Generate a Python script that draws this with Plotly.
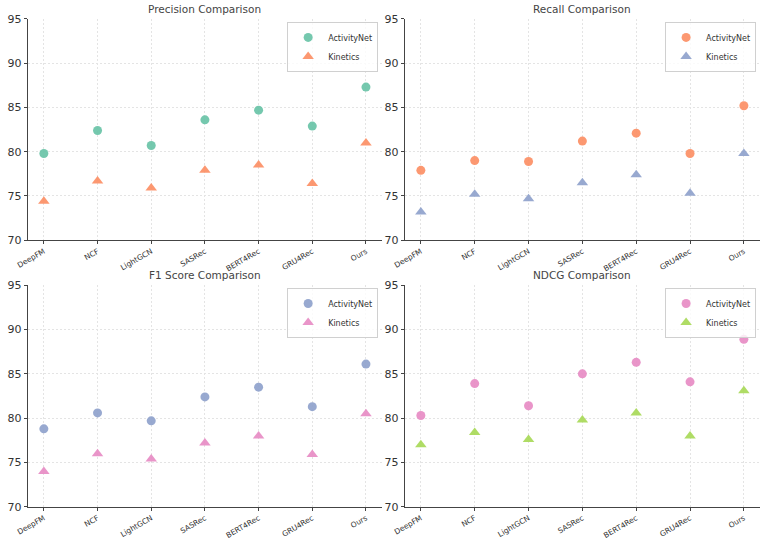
import plotly.graph_objects as go

models = ["DeepFM", "NCF", "LightGCN", "SASRec", "BERT4Rec", "GRU4Rec", "Ours"]
y_ticks = [70, 75, 80, 85, 90, 95]

precision_activitynet = [79.8, 82.4, 80.7, 83.6, 84.7, 82.9, 87.3]
precision_kinetics = [74.4, 76.7, 75.9, 77.9, 78.5, 76.4, 81.0]
recall_activitynet = [77.9, 79.0, 78.9, 81.2, 82.1, 79.8, 85.2]
recall_kinetics = [73.2, 75.2, 74.7, 76.5, 77.4, 75.3, 79.8]
f1_activitynet = [78.8, 80.6, 79.7, 82.4, 83.5, 81.3, 86.1]
f1_kinetics = [74.0, 76.0, 75.4, 77.2, 78.0, 75.9, 80.5]
ndcg_activitynet = [80.3, 83.9, 81.4, 85.0, 86.3, 84.1, 88.9]
ndcg_kinetics = [77.0, 78.4, 77.6, 79.8, 80.6, 78.0, 83.1]

titles = ["Precision Comparison", "Recall Comparison", "F1 Score Comparison", "NDCG Comparison"]
series = [
    (precision_activitynet, precision_kinetics, "#66c2a5", "#fc8d62"),
    (recall_activitynet, recall_kinetics, "#fc8d62", "#8da0cb"),
    (f1_activitynet, f1_kinetics, "#8da0cb", "#e78ac3"),
    (ndcg_activitynet, ndcg_kinetics, "#e78ac3", "#a6d854"),
]

W, H = 762, 540
xdoms = [[16 / W, 376 / W], [399 / W, 760 / W]]
ydoms = [[1 - 240 / H, 1 - 13.3 / H], [1 - 513.3 / H, 1 - 286 / H]]

fig = go.Figure()
annotations = []
layout = {}
for i in range(4):
    r, c = divmod(i, 2)
    an, kn, ca, ck = series[i]
    sfx = "" if i == 0 else str(i + 1)
    lname = "legend" + sfx
    fig.add_trace(go.Scatter(
        x=models, y=an, mode="markers", name="ActivityNet",
        marker=dict(symbol="circle", size=9, color=ca, opacity=0.9),
        xaxis="x" + sfx, yaxis="y" + sfx, legend=lname))
    fig.add_trace(go.Scatter(
        x=models, y=kn, mode="markers", name="Kinetics",
        marker=dict(symbol="triangle-up", size=10, color=ck, opacity=0.9),
        xaxis="x" + sfx, yaxis="y" + sfx, legend=lname))
    axstyle = dict(showline=True, linecolor="#444444", linewidth=1, mirror=False,
                   ticks="outside", ticklen=3, tickcolor="#444444",
                   showgrid=True, gridcolor="#e4e4e4", gridwidth=0.8, griddash="2px,2px",
                   zeroline=False)
    layout["xaxis" + sfx] = dict(domain=xdoms[c], anchor="y" + sfx, type="category",
                                 range=[-0.3, 6.3], tickangle=-30,
                                 tickfont=dict(size=7.5, color="#333333"), **axstyle)
    layout["yaxis" + sfx] = dict(domain=ydoms[r], anchor="x" + sfx, range=[70, 95],
                                 tickvals=y_ticks, tickfont=dict(size=11, color="#333333"),
                                 **axstyle)
    layout[lname] = dict(x=xdoms[c][1] - 4 / W, y=ydoms[r][1] - 3 / H,
                         xanchor="right", yanchor="top",
                         bgcolor="rgba(255,255,255,0.8)", bordercolor="#d0d0d0",
                         borderwidth=1, font=dict(size=8, color="#333333"),
                         tracegroupgap=0, itemwidth=30)
    annotations.append(dict(text=titles[i], xref="paper", yref="paper",
                            x=(xdoms[c][0] + xdoms[c][1]) / 2, y=ydoms[r][1] + 2 / H,
                            xanchor="center", yanchor="bottom", showarrow=False,
                            font=dict(size=10.5, color="#444444")))

fig.update_layout(width=W, height=H, margin=dict(l=0, r=0, t=0, b=0),
                  paper_bgcolor="white", plot_bgcolor="white",
                  font=dict(family="DejaVu Sans"), annotations=annotations,
                  showlegend=True, **layout)
fig.write_html("out.html")
